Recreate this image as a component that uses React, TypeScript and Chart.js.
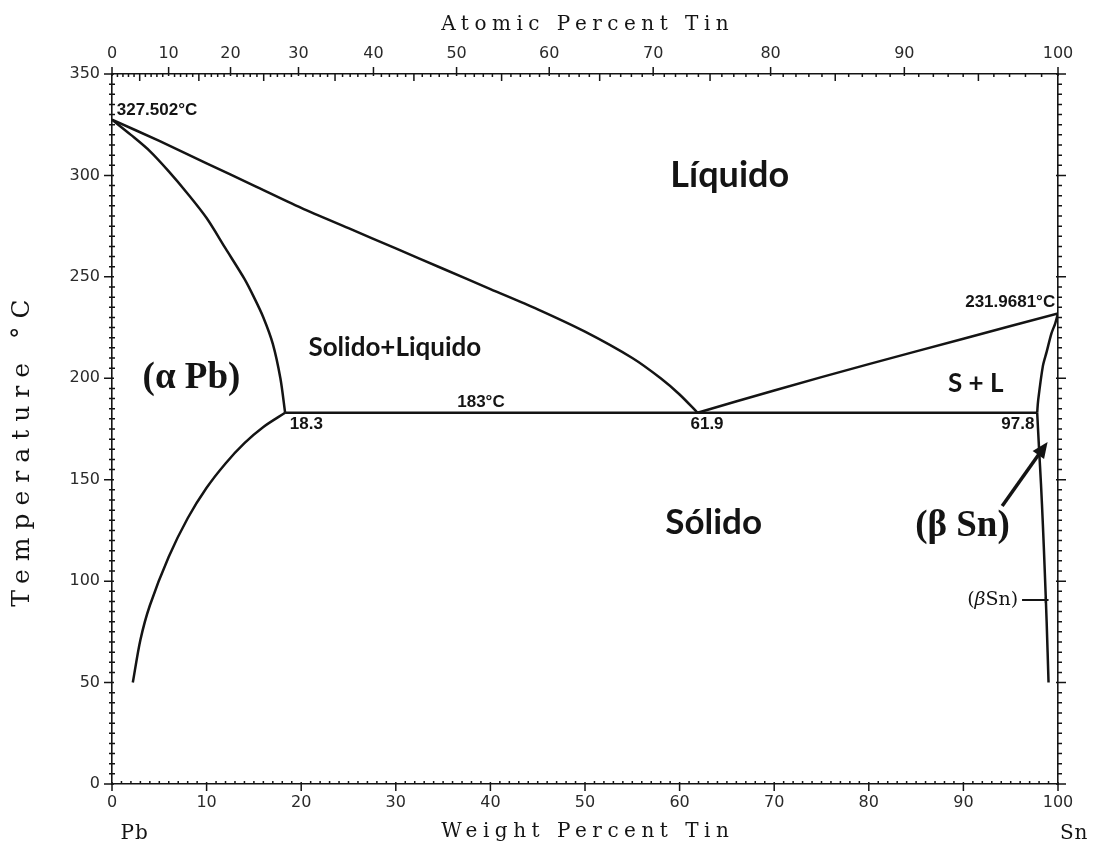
import React, { useEffect, useRef } from "react";
import { Chart, registerables } from "chart.js";

Chart.register(...registerables);

// ---------- data ----------
const M_SN = 118.71;
const M_PB = 207.2;

const atomicTicks = [0, 10, 20, 30, 40, 50, 60, 70, 80, 90, 100];
const weightTickStep = 10;
const tempTickStep = 50;

const liquidusLeftWt = [0, 5, 10, 15, 20, 25, 30, 35, 40, 45, 50, 55, 58, 60, 61.9];
const liquidusLeftT = [327.5, 317, 306, 295, 284, 274, 264, 254, 244, 234, 223, 210, 200, 192, 183];

const solidusLeftWt = [0, 2, 4, 6, 8, 10, 12, 14, 15, 16, 17, 17.8, 18.3];
const solidusLeftT = [327.5, 320, 312, 302, 291, 279, 264, 249, 240, 230, 217, 200, 183];

const solvusLeftWt = [18.3, 16, 14, 12, 10, 8, 6, 4, 3, 2.2];
const solvusLeftT = [183, 176, 168, 158, 146, 131, 112, 88, 71, 50];

const eutecticWt = [18.3, 97.8];
const eutecticT = [183, 183];

const liquidusRightWt = [61.9, 70, 80, 90, 100];
const liquidusRightT = [183, 194, 207, 219.5, 231.9681];

const solidusRightWt = [100, 99.7, 99.3, 98.8, 98.4, 97.9, 97.8];
const solidusRightT = [231.9681, 227, 222, 213, 206, 189, 183];

const solvusRightWt = [97.8, 98.0, 98.2, 98.4, 98.6, 98.8, 99.0];
const solvusRightT = [183, 165, 148, 128, 105, 80, 50];

const curves = [
  [liquidusLeftWt, liquidusLeftT],
  [solidusLeftWt, solidusLeftT],
  [solvusLeftWt, solvusLeftT],
  [eutecticWt, eutecticT],
  [liquidusRightWt, liquidusRightT],
  [solidusRightWt, solidusRightT],
  [solvusRightWt, solvusRightT],
];

// annotation texts (positions in data units: wt% Sn, °C)
const labels = [
  { text: "Líquido", w: 65.3, t: 300, font: "bold 36px Lato", align: "center" },
  { text: "Solido+Liquido", w: 29.9, t: 215, font: "bold 26px Lato", align: "center" },
  { text: "(α Pb)", w: 8.4, t: 200, font: "bold 37px 'Liberation Serif'", align: "center" },
  { text: "S + L", w: 91.3, t: 197.5, font: "bold 26px Lato", align: "center" },
  { text: "Sólido", w: 63.6, t: 129, font: "bold 35px Lato", align: "center" },
  { text: "(β Sn)", w: 89.9, t: 127, font: "bold 37px 'Liberation Serif'", align: "center" },
  { text: "327.502°C", w: 0.5, t: 332, font: "bold 17px 'Liberation Sans'", align: "left" },
  { text: "231.9681°C", w: 99.7, t: 237.5, font: "bold 17px 'Liberation Sans'", align: "right" },
  { text: "183°C", w: 39, t: 188, font: "bold 17px 'Liberation Sans'", align: "center" },
  { text: "18.3", w: 18.8, t: 177.5, font: "bold 17px 'Liberation Sans'", align: "left" },
  { text: "61.9", w: 62.9, t: 177.5, font: "bold 17px 'Liberation Sans'", align: "center" },
  { text: "97.8", w: 97.5, t: 177.5, font: "bold 17px 'Liberation Sans'", align: "right" },
];

const atToWt = (a: number) => (100 * a * M_SN) / (a * M_SN + (100 - a) * M_PB);

const INK = "#141414";
const SERIF = "'DejaVu Serif'";

function spacedText(ctx: CanvasRenderingContext2D, text: string, x: number, y: number, spacing: number) {
  ctx.save();
  (ctx as any).letterSpacing = spacing + "px";
  ctx.fillText(text, x + spacing / 2, y);
  ctx.restore();
}

const decor = {
  id: "decor",
  afterDraw(chart: any) {
    const { ctx, chartArea: a, scales } = chart;
    const x = scales.x;
    const y = scales.y;
    ctx.save();
    ctx.strokeStyle = INK;
    ctx.fillStyle = INK;
    ctx.lineWidth = 1.5;
    ctx.beginPath();
    // bottom axis ticks
    for (let w = 0; w <= 100; w += 1) {
      const px = x.getPixelForValue(w);
      if (w % 10 === 0) {
        ctx.moveTo(px, a.bottom - 2);
        ctx.lineTo(px, a.bottom + 7);
      } else {
        ctx.moveTo(px, a.bottom);
        ctx.lineTo(px, a.bottom - 3);
      }
    }
    // top axis ticks (atomic percent)
    for (let at = 0; at <= 100; at += 1) {
      const px = x.getPixelForValue(atToWt(at));
      if (at % 10 === 0) {
        ctx.moveTo(px, a.top + 2);
        ctx.lineTo(px, a.top - 7);
      } else if (at % 5 === 0) {
        ctx.moveTo(px, a.top);
        ctx.lineTo(px, a.top + 7);
      } else {
        ctx.moveTo(px, a.top);
        ctx.lineTo(px, a.top + 3);
      }
    }
    // left & right axis ticks
    for (let t = 0; t <= 350; t += 5) {
      const py = y.getPixelForValue(t);
      if (t % 50 === 0) {
        ctx.moveTo(a.left + 2, py);
        ctx.lineTo(a.left - 8, py);
        ctx.moveTo(a.right - 2, py);
        ctx.lineTo(a.right + 8, py);
      } else {
        ctx.moveTo(a.left - 3, py);
        ctx.lineTo(a.left + 3, py);
        ctx.moveTo(a.right, py);
        ctx.lineTo(a.right + 4, py);
      }
    }
    ctx.stroke();

    // axis titles
    ctx.textBaseline = "middle";
    ctx.textAlign = "center";
    ctx.font = `20px ${SERIF}`;
    const cx = (a.left + a.right) / 2;
    spacedText(ctx, "Atomic Percent Tin", cx, 25, 5.5);
    spacedText(ctx, "Weight Percent Tin", cx, 832, 5.5);
    ctx.font = `20px ${SERIF}`;
    ctx.textAlign = "left";
    spacedText(ctx, "Pb", 120, 834, 1);
    ctx.textAlign = "right";
    spacedText(ctx, "Sn", 1088, 834, 1);
    ctx.save();
    ctx.translate(22, 453);
    ctx.rotate(-Math.PI / 2);
    ctx.textAlign = "center";
    ctx.font = `25px ${SERIF}`;
    spacedText(ctx, "Temperature °C", 0, 0, 8);
    ctx.restore();

    // annotations
    for (const l of labels) {
      ctx.font = l.font;
      ctx.textAlign = l.align;
      ctx.fillText(l.text, x.getPixelForValue(l.w), y.getPixelForValue(l.t));
    }

    // small (βSn) label with pointer line
    const ly = y.getPixelForValue(90.7);
    const rx = x.getPixelForValue(95.8);
    const fN = `19px ${SERIF}`;
    const fI = `italic 19px ${SERIF}`;
    ctx.textAlign = "left";
    ctx.font = fN;
    const wClose = ctx.measureText("Sn)").width;
    const wOpen = ctx.measureText("(").width;
    ctx.font = fI;
    const wBeta = ctx.measureText("β").width;
    const sx = rx - (wOpen + wBeta + wClose);
    ctx.font = fN;
    ctx.fillText("(", sx, ly);
    ctx.font = fI;
    ctx.fillText("β", sx + wOpen, ly);
    ctx.font = fN;
    ctx.fillText("Sn)", sx + wOpen + wBeta, ly);
    ctx.lineWidth = 1.8;
    ctx.beginPath();
    ctx.moveTo(x.getPixelForValue(96.2), ly);
    ctx.lineTo(x.getPixelForValue(99.0), ly);
    const mx = x.getPixelForValue(98.7);
    ctx.moveTo(mx, ly - 3);
    ctx.lineTo(mx, ly + 3);
    ctx.stroke();

    // arrow to (β Sn) field
    const x0 = x.getPixelForValue(94.1), y0 = y.getPixelForValue(137);
    const x1 = x.getPixelForValue(98.9), y1 = y.getPixelForValue(168.6);
    const ang = Math.atan2(y1 - y0, x1 - x0);
    ctx.lineWidth = 3.5;
    ctx.beginPath();
    ctx.moveTo(x0, y0);
    ctx.lineTo(x1 - 12 * Math.cos(ang), y1 - 12 * Math.sin(ang));
    ctx.stroke();
    ctx.beginPath();
    ctx.moveTo(x1, y1);
    ctx.lineTo(x1 - 16 * Math.cos(ang) + 7 * Math.sin(ang), y1 - 16 * Math.sin(ang) - 7 * Math.cos(ang));
    ctx.lineTo(x1 - 16 * Math.cos(ang) - 7 * Math.sin(ang), y1 - 16 * Math.sin(ang) + 7 * Math.cos(ang));
    ctx.closePath();
    ctx.fill();
    ctx.restore();
  },
};

const tickFont = { family: "'DejaVu Sans'", size: 16 };
const tickColor = "#2a2a2a";

export default function App() {
  const ref = useRef<HTMLCanvasElement>(null);
  useEffect(() => {
    const canvas = ref.current;
    if (!canvas) return;
    const chart = new Chart(canvas, {
      type: "line",
      data: {
        datasets: curves.map(([ws, ts]) => ({
          data: ws.map((w, i) => ({ x: w, y: ts[i] })),
          borderColor: INK,
          borderWidth: 2.5,
          pointRadius: 0,
          tension: 0.3,
          fill: false,
          xAxisID: "x",
          yAxisID: "y",
        })),
      },
      options: {
        animation: false,
        responsive: false,
        events: [],
        layout: { padding: 0 },
        plugins: { legend: { display: false }, tooltip: { enabled: false } },
        scales: {
          x: {
            type: "linear",
            position: "bottom",
            min: 0,
            max: 100,
            ticks: { stepSize: weightTickStep, padding: 9, font: tickFont, color: tickColor },
            grid: { display: false, drawTicks: false },
            border: { display: true, color: INK, width: 1.6 },
            afterFit: (s: any) => { s.height = 64; },
          },
          xTop: {
            type: "linear",
            position: "top",
            min: 0,
            max: 100,
            afterBuildTicks: (s: any) => { s.ticks = atomicTicks.map((a) => ({ value: atToWt(a) })); },
            ticks: {
              autoSkip: false,
              maxRotation: 0,
              padding: 11,
              font: tickFont,
              color: tickColor,
              callback: (_v: any, i: number) => String(atomicTicks[i]),
            },
            grid: { display: false, drawTicks: false },
            border: { display: true, color: INK, width: 1.6 },
            afterFit: (s: any) => { s.height = 74; },
          },
          y: {
            type: "linear",
            position: "left",
            min: 0,
            max: 350,
            ticks: { stepSize: tempTickStep, padding: 12, font: tickFont, color: tickColor },
            grid: { display: false, drawTicks: false },
            border: { display: true, color: INK, width: 1.6 },
            afterFit: (s: any) => { s.width = 112; },
          },
          yR: {
            type: "linear",
            position: "right",
            min: 0,
            max: 350,
            ticks: { display: false },
            grid: { display: false, drawTicks: false },
            border: { display: true, color: INK, width: 1.6 },
            afterFit: (s: any) => { s.width = 35; },
          },
        },
      } as any,
      plugins: [decor as any],
    });
    return () => chart.destroy();
  }, []);
  return (
    <div style={{ position: "absolute", left: 0, top: 0, width: 1093, height: 848, background: "#fff" }}>
      <canvas ref={ref} width={1093} height={848} style={{ display: "block" }} />
    </div>
  );
}
